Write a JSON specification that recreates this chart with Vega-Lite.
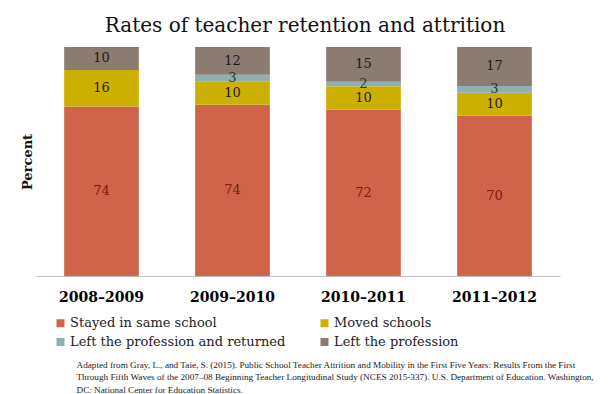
{
  "$schema": "https://vega.github.io/schema/vega-lite/v6.json",
  "width": 524,
  "height": 229,
  "autosize": {"type": "none"},
  "padding": {"left": 36, "top": 47, "right": 50, "bottom": 118},
  "background": "white",
  "config": {"view": {"stroke": null}},
  "title": {
    "text": "Rates of teacher retention and attrition",
    "font": "DejaVu Serif",
    "fontSize": 20,
    "fontWeight": "normal",
    "color": "#111111",
    "anchor": "middle",
    "frame": "group",
    "dx": 7,
    "dy": 20,
    "baseline": "alphabetic",
    "offset": 15
  },
  "data": {
    "values": [
      {"year": "2008–2009", "status": "Stayed in same school", "pct": 74},
      {"year": "2008–2009", "status": "Moved schools", "pct": 16},
      {"year": "2008–2009", "status": "Left the profession", "pct": 10},
      {"year": "2009–2010", "status": "Stayed in same school", "pct": 74},
      {"year": "2009–2010", "status": "Moved schools", "pct": 10},
      {"year": "2009–2010", "status": "Left the profession and returned", "pct": 3},
      {"year": "2009–2010", "status": "Left the profession", "pct": 12},
      {"year": "2010–2011", "status": "Stayed in same school", "pct": 72},
      {"year": "2010–2011", "status": "Moved schools", "pct": 10},
      {"year": "2010–2011", "status": "Left the profession and returned", "pct": 2},
      {"year": "2010–2011", "status": "Left the profession", "pct": 15},
      {"year": "2011–2012", "status": "Stayed in same school", "pct": 70},
      {"year": "2011–2012", "status": "Moved schools", "pct": 10},
      {"year": "2011–2012", "status": "Left the profession and returned", "pct": 3},
      {"year": "2011–2012", "status": "Left the profession", "pct": 17}
    ]
  },
  "encoding": {
    "x": {
      "field": "year",
      "type": "nominal",
      "sort": null,
      "scale": {"paddingInner": 0.43, "paddingOuter": 0.215},
      "axis": {
        "title": [
          "Adapted from Gray, L., and Taie, S. (2015). Public School Teacher Attrition and Mobility in the First Five Years: Results From the First",
          "Through Fifth Waves of the 2007–08 Beginning Teacher Longitudinal Study (NCES 2015-337). U.S. Department of Education. Washington,",
          "DC: National Center for Education Statistics."
        ],
        "labelAngle": 0,
        "labelFont": "DejaVu Serif",
        "labelFontWeight": "bold",
        "labelFontSize": 14,
        "labelColor": "#000000",
        "labelPadding": 14,
        "ticks": false,
        "domainColor": "#bfbfbf",
        "domainWidth": 1,
        "titleFont": "Liberation Serif",
        "titleFontSize": 9.2,
        "titleFontWeight": "normal",
        "titleColor": "#222222",
        "titleAlign": "left",
        "titleAnchor": "start",
        "titleX": 40,
        "titleY": 91,
        "titleBaseline": "alphabetic",
        "titleLineHeight": 12.5
      }
    },
    "y": {
      "field": "pct",
      "type": "quantitative",
      "stack": "normalize",
      "scale": {"domain": [0, 1], "nice": false},
      "axis": {
        "title": "Percent",
        "labels": false,
        "ticks": false,
        "domain": false,
        "grid": false,
        "titleFont": "DejaVu Serif",
        "titleFontSize": 13,
        "titleFontWeight": "bold",
        "titleColor": "#111111",
        "titleX": -9,
        "titleY": 114.5,
        "titleAngle": -90,
        "titleAlign": "center",
        "titleBaseline": "middle"
      }
    }
  },
  "layer": [
    {
      "mark": {"type": "bar"},
      "encoding": {
        "color": {
          "field": "status",
          "type": "nominal",
          "sort": ["Stayed in same school", "Moved schools", "Left the profession and returned", "Left the profession"],
          "scale": {
            "domain": ["Stayed in same school", "Moved schools", "Left the profession and returned", "Left the profession"],
            "range": ["#D0644A", "#CCB000", "#8FAFB0", "#8C7B70"]
          },
          "legend": {
            "orient": "none",
            "direction": "horizontal",
            "legendX": 18,
            "legendY": 269.5,
            "columns": 2,
            "title": null,
            "symbolType": "square",
            "symbolSize": 64,
            "symbolStrokeWidth": 0,
            "labelFont": "DejaVu Serif",
            "labelFontSize": 13,
            "labelColor": "#222222",
            "labelOffset": 3,
            "labelLimit": 400,
            "columnPadding": 32,
            "rowPadding": 5,
            "padding": 0
          }
        }
      }
    },
    {
      "mark": {"type": "text", "font": "DejaVu Serif", "fontSize": 13, "baseline": "middle"},
      "encoding": {
        "y": {
          "field": "pct",
          "type": "quantitative",
          "stack": "normalize",
          "bandPosition": 0.5
        },
        "text": {"field": "pct", "type": "quantitative"},
        "color": {
          "field": "status",
          "type": "nominal",
          "sort": ["Stayed in same school", "Moved schools", "Left the profession and returned", "Left the profession"],
          "scale": {
            "domain": ["Stayed in same school", "Moved schools", "Left the profession and returned", "Left the profession"],
            "range": ["#7a1b0e", "#1a1a1a", "#1d3b3c", "#1a1a1a"]
          },
          "legend": null
        }
      }
    }
  ],
  "resolve": {"scale": {"color": "independent"}}
}
